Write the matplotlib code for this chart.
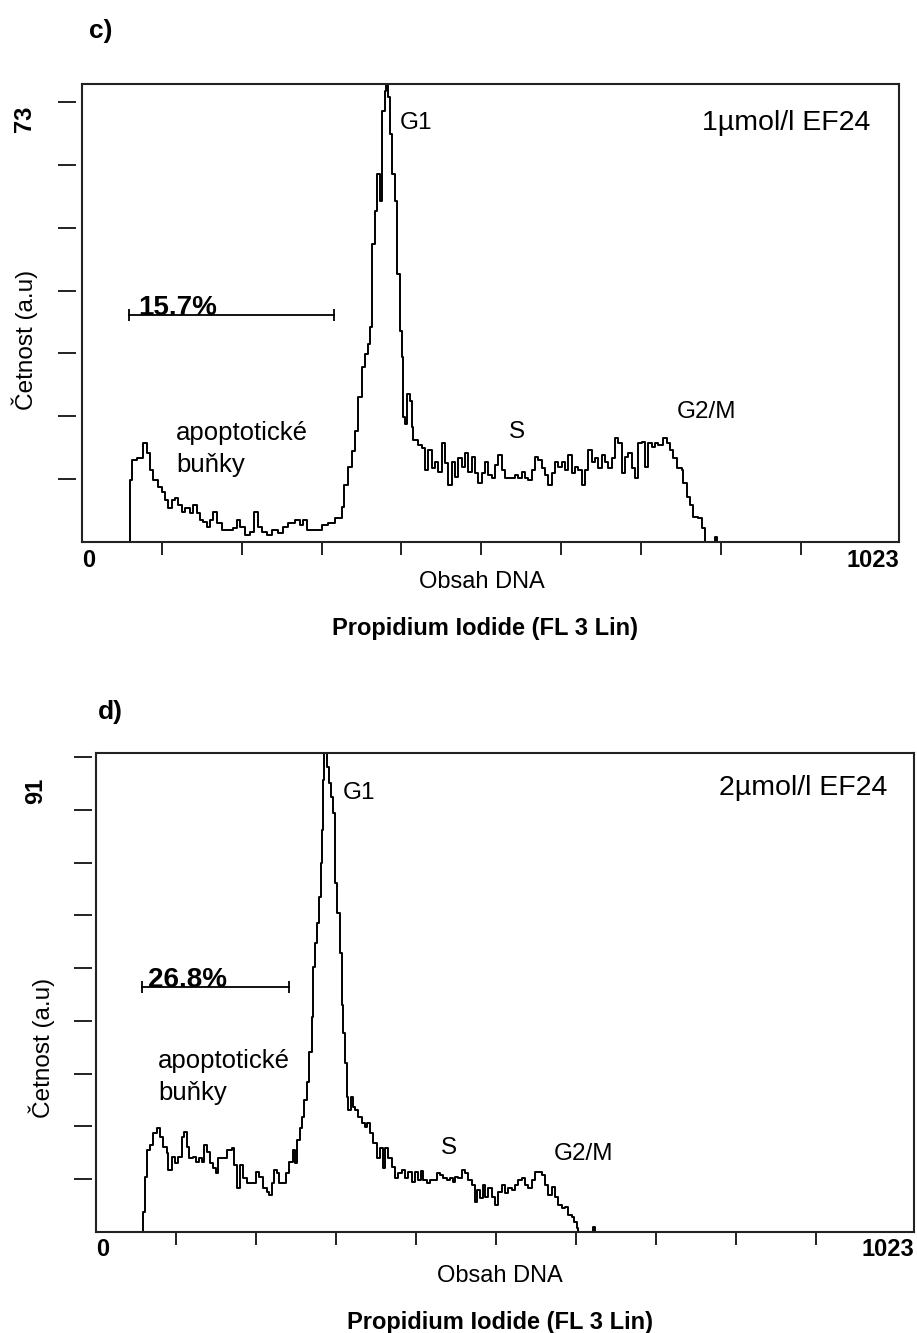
import matplotlib
matplotlib.use("Agg")
import matplotlib.pyplot as plt

plt.rcParams["font.family"] = ["Liberation Sans", "DejaVu Sans"]

# ==== data (channel, count) ====
C_CHANNEL = [56, 60, 63, 69, 76, 81, 85, 89, 95, 100,
             104, 108, 113, 116, 120, 125, 129, 135, 139, 144,
             148, 151, 156, 160, 164, 169, 175, 183, 189, 194,
             198, 204, 210, 215, 220, 225, 232, 238, 245, 252,
             258, 267, 273, 277, 282, 292, 300, 308, 317, 326,
             328, 333, 338, 342, 346, 351, 354, 358, 361, 363,
             367, 369, 373, 376, 379, 381, 383, 386, 388, 392,
             394, 398, 401, 402, 404, 407, 411, 413, 414, 421,
             426, 429, 433, 438, 442, 446, 451, 454, 458, 463,
             467, 471, 476, 480, 483, 488, 492, 496, 501, 505,
             508, 513, 517, 521, 526, 530, 538, 542, 546, 551,
             555, 558, 563, 567, 571, 576, 580, 583, 588, 592,
             596, 601, 605, 608, 613, 617, 621, 626, 630, 634,
             639, 642, 646, 651, 655, 659, 664, 667, 671, 676,
             680, 684, 689, 692, 696, 701, 705, 709, 714, 717,
             721, 727, 732, 736, 740, 745, 751, 752, 757, 761,
             765, 771, 776, 780, 790, 793, 795]
C_COUNT = [0, 10.3, 13.6, 13.9, 16.4, 14.8, 11.9, 10.3, 9.1, 8.3,
           7.0, 5.6, 7.0, 7.3, 6.1, 5.0, 5.6, 4.8, 6.1, 4.8,
           3.6, 3.3, 2.5, 3.6, 5.0, 3.2, 2.0, 2.0, 2.3, 3.6,
           2.5, 1.2, 1.7, 5.0, 2.5, 1.7, 1.2, 2.0, 1.5, 2.5,
           3.2, 3.6, 2.8, 3.6, 2.0, 2.0, 2.8, 3.2, 4.0, 5.8,
           9.5, 12.4, 15.1, 18.4, 24.1, 29.0, 31.2, 32.8, 35.7, 49.4,
           54.9, 61.0, 56.6, 71.5, 74.8, 77.0, 73.8, 67.7, 61.0, 56.6,
           44.5, 35.0, 30.7, 20.7, 19.6, 24.6, 23.4, 19.1, 16.9, 16.1,
           15.6, 11.9, 15.3, 12.3, 13.3, 11.6, 16.4, 13.1, 9.5, 13.3,
           10.8, 13.9, 12.4, 14.8, 11.6, 14.1, 11.4, 9.8, 11.4, 13.3,
           11.1, 10.6, 12.8, 14.4, 11.9, 10.6, 10.6, 11.1, 10.6, 11.6,
           10.6, 10.3, 11.9, 14.1, 13.6, 12.3, 11.1, 9.5, 11.4, 13.3,
           12.4, 13.3, 11.9, 14.4, 11.4, 12.4, 11.9, 9.5, 11.9, 15.3,
           13.3, 13.9, 12.3, 14.4, 13.3, 12.3, 13.9, 17.3, 16.4, 11.4,
           14.1, 14.8, 12.3, 10.6, 16.4, 16.6, 12.4, 16.4, 15.8, 16.4,
           16.1, 17.3, 16.4, 15.3, 13.9, 12.3, 11.9, 9.8, 7.5, 6.1,
           4.1, 4.0, 2.3, 0, 0, 0.8, 0]

D_CHANNEL = [55, 59, 61, 64, 68, 71, 76, 80, 84, 89,
             90, 95, 99, 103, 108, 110, 114, 116, 121, 125,
             129, 133, 135, 139, 143, 146, 150, 153, 159, 164,
             170, 173, 176, 180, 184, 189, 195, 200, 204, 209,
             214, 216, 220, 223, 226, 229, 234, 238, 241, 246,
             249, 251, 255, 258, 260, 264, 266, 270, 271, 274,
             276, 279, 281, 283, 284, 285, 289, 291, 294, 296,
             299, 301, 305, 308, 309, 311, 314, 315, 319, 321,
             324, 328, 333, 336, 339, 343, 346, 351, 355, 359,
             361, 365, 370, 374, 378, 383, 386, 390, 395, 399,
             403, 406, 409, 414, 418, 421, 426, 430, 434, 439,
             443, 446, 449, 453, 458, 461, 465, 470, 474, 476,
             480, 484, 486, 490, 495, 499, 503, 508, 511, 515,
             520, 524, 528, 533, 537, 540, 545, 549, 553, 558,
             562, 565, 570, 574, 578, 583, 587, 590, 595, 598,
             602, 603, 618, 622, 624]
D_COUNT = [0, 3.8, 10.5, 15.7, 16.7, 19.0, 19.9, 18.2, 16.3, 15.1,
           11.9, 14.4, 13.2, 14.4, 18.2, 19.2, 16.3, 14.2, 14.4, 13.4,
           14.2, 13.4, 16.7, 15.3, 13.2, 12.3, 11.3, 14.2, 14.2, 15.7,
           16.1, 12.8, 8.4, 12.8, 10.3, 9.4, 9.4, 11.5, 10.5, 8.4,
           7.7, 7.1, 9.4, 11.9, 11.3, 9.4, 9.4, 11.3, 13.4, 15.7,
           13.2, 17.6, 19.9, 22.0, 25.3, 28.7, 34.5, 41.2, 50.8, 55.4,
           59.2, 64.2, 70.7, 77.0, 86.6, 92.5, 89.1, 86.0, 83.3, 80.3,
           66.9, 61.1, 53.5, 43.5, 38.1, 32.4, 25.9, 23.4, 25.9, 24.0,
           23.4, 22.0, 20.9, 20.1, 20.9, 19.0, 17.1, 14.2, 16.1, 12.3,
           16.1, 14.2, 12.5, 10.3, 11.3, 11.9, 10.3, 11.5, 9.6, 11.5,
           10.0, 11.7, 10.0, 9.4, 10.0, 10.0, 11.3, 10.9, 10.3, 10.0,
           10.3, 9.6, 10.5, 10.3, 11.9, 11.3, 10.0, 9.0, 5.7, 8.0,
           6.5, 9.0, 6.7, 8.4, 6.7, 5.2, 7.7, 9.0, 7.5, 8.4,
           8.0, 9.0, 10.0, 10.3, 9.0, 8.4, 10.0, 11.5, 11.5, 10.9,
           9.0, 7.1, 8.6, 6.7, 5.2, 4.6, 4.8, 3.3, 2.9, 1.9,
           0.8, 0, 0, 1.0, 0]

# marker gates: (start channel, end channel, level, percent)
C_GATE = (59, 316, 37.7, "15.7%")
D_GATE = (58, 241, 46.9, "26.8%")

C_YMAX_LABEL = 73
D_YMAX_LABEL = 91

W, H = 917, 1333
fig = plt.figure(figsize=(W / 100, H / 100), dpi=100)


def ftxt(x, y, s, **kw):
    kw.setdefault("ha", "center")
    kw.setdefault("va", "center")
    fig.text(x / W, 1 - y / H, s, **kw)


def panel(box, chan, count, gate, ymax_label, nticks, tick_gap, conc,
          g1_pos, conc_pos, apo_pos, s_pos, g2_pos, gate_text_x):
    left, top, right, bottom = box
    ax = fig.add_axes([left / W, 1 - bottom / H, (right - left) / W, (bottom - top) / H])
    ymax = ymax_label * (bottom - top) / (bottom - top - tick_gap[1])
    ax.set_xlim(0, 1023)
    ax.set_ylim(0, ymax)
    ax.step(chan, count, where="post", color="black", lw=1.4)

    for sp in ax.spines.values():
        sp.set_linewidth(1.5)
        sp.set_color("#222222")
    ax.set_xticks(range(100, 1000, 100))
    ax.set_xticklabels([])
    ax.tick_params(axis="x", direction="out", length=9, width=1.4, color="#222222")
    ax.set_yticks([])

    # y ticks sit a few pixels away from the frame
    sec = ax.secondary_yaxis(-tick_gap[0] / (right - left))
    sec.set_yticks([ymax_label * k / nticks for k in range(1, nticks + 1)])
    sec.set_yticklabels([])
    sec.tick_params(direction="out", length=13, width=1.4, color="#222222")
    sec.spines["left"].set_visible(False)

    # gate marker
    x0, x1, lvl, pct = gate
    ax.plot([x0, x1], [lvl, lvl], color="black", lw=1.3)
    ax.plot([x0, x1], [lvl, lvl], ls="none", marker="|", ms=8, mew=1.3, color="black")
    ax.text(gate_text_x, lvl, pct, fontsize=20, fontweight="bold", ha="left", va="baseline")

    ax.text(*g1_pos, "G1", transform=ax.transAxes, fontsize=17.5, ha="left", va="center")
    ax.text(*conc_pos, conc, transform=ax.transAxes, fontsize=20.5, ha="right", va="center")
    ax.text(*apo_pos, "apoptotické\nbuňky", transform=ax.transAxes, fontsize=18.5,
            ha="left", va="center", linespacing=1.4)
    ax.text(*s_pos, "S", transform=ax.transAxes, fontsize=17.5, ha="center", va="center")
    ax.text(*g2_pos, "G2/M", transform=ax.transAxes, fontsize=17.5, ha="left", va="center")
    return ax


# ==== c) ====
panel((82, 84, 899, 542), C_CHANNEL, C_COUNT, C_GATE, C_YMAX_LABEL, 7, (6, 18), "1µmol/l EF24",
      (0.389, 0.915), (0.965, 0.915), (0.115, 0.203), (0.532, 0.240), (0.728, 0.284), 70)
ftxt(101, 31, "c)", fontsize=19, fontweight="bold")
ftxt(24, 119, str(C_YMAX_LABEL), fontsize=17, fontweight="bold", rotation=90)
ftxt(25, 340, "Četnost (a.u)", fontsize=17.5, rotation=90)
ftxt(82, 560, "0", fontsize=17, fontweight="bold", ha="left")
ftxt(899, 560, "1023", fontsize=17, fontweight="bold", ha="right")
ftxt(482, 582, "Obsah DNA", fontsize=17)
ftxt(485, 628, "Propidium Iodide (FL 3 Lin)", fontsize=17, fontweight="bold")

# ==== d) ====
panel((96, 753, 914, 1232), D_CHANNEL, D_COUNT, D_GATE, D_YMAX_LABEL, 9, (4, 4), "2µmol/l EF24",
      (0.302, 0.9165), (0.967, 0.927), (0.076, 0.324), (0.432, 0.175), (0.559, 0.163), 65)
ftxt(110, 712, "d)", fontsize=19, fontweight="bold")
ftxt(36, 791, str(D_YMAX_LABEL), fontsize=17, fontweight="bold", rotation=90)
ftxt(42, 1048, "Četnost (a.u)", fontsize=17.5, rotation=90)
ftxt(96, 1249, "0", fontsize=17, fontweight="bold", ha="left")
ftxt(914, 1249, "1023", fontsize=17, fontweight="bold", ha="right")
ftxt(500, 1276, "Obsah DNA", fontsize=17)
ftxt(500, 1323, "Propidium Iodide (FL 3 Lin)", fontsize=17, fontweight="bold")

fig.savefig("out.png", dpi=100)
